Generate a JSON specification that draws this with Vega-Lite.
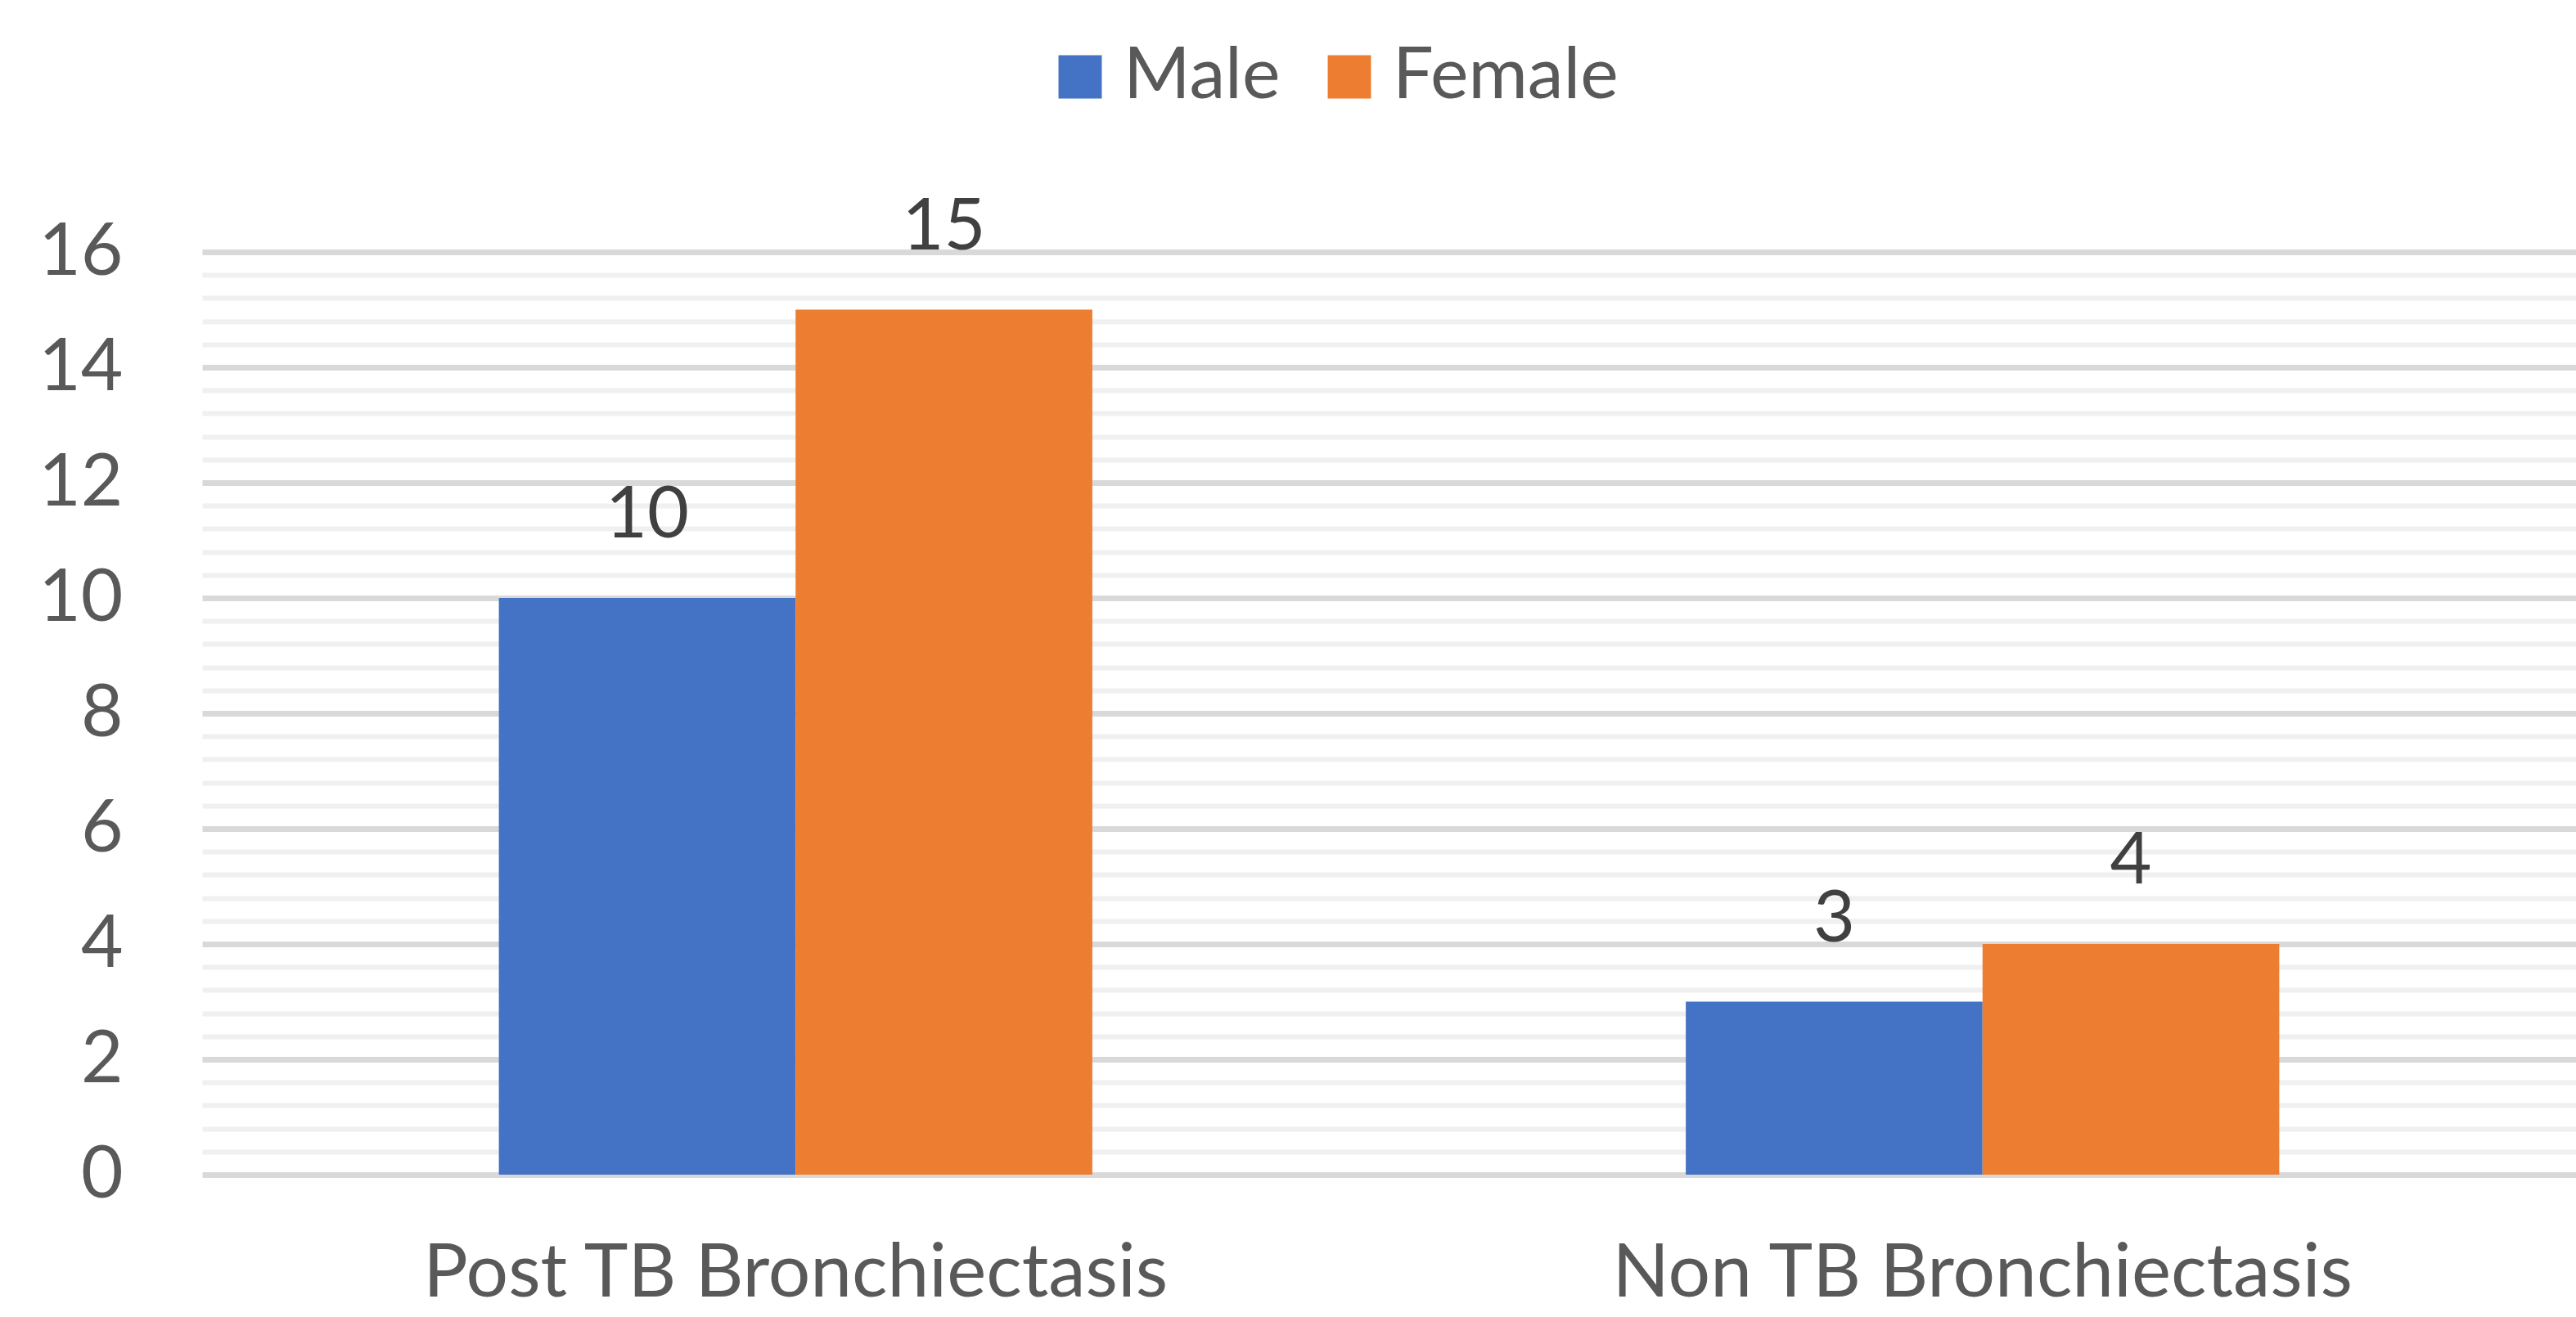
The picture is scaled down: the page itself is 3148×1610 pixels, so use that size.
{
  "$schema": "https://vega.github.io/schema/vega-lite/v6.json",
  "width": 2901,
  "height": 1128,
  "autosize": {"type": "none"},
  "padding": {"left": 247, "top": 308, "right": 0, "bottom": 174},
  "background": "white",
  "config": {
    "view": {"stroke": null},
    "font": "Lato",
    "text": {"font": "Lato"}
  },
  "data": {
    "values": [
      {"category": "Post TB Bronchiectasis", "sex": "Male", "count": 10},
      {"category": "Post TB Bronchiectasis", "sex": "Female", "count": 15},
      {"category": "Non TB Bronchiectasis", "sex": "Male", "count": 3},
      {"category": "Non TB Bronchiectasis", "sex": "Female", "count": 4}
    ]
  },
  "encoding": {
    "x": {
      "field": "category",
      "type": "nominal",
      "sort": ["Post TB Bronchiectasis", "Non TB Bronchiectasis"],
      "scale": {"paddingInner": 0.5, "paddingOuter": 0.25},
      "axis": {
        "title": null,
        "labelAngle": 0,
        "labelLimit": 0,
        "labelFont": "Lato",
        "labelFontSize": 91,
        "labelColor": "#595959",
        "labelPadding": 76,
        "ticks": false,
        "domain": false,
        "grid": false
      }
    },
    "xOffset": {"field": "sex", "type": "nominal", "sort": ["Male", "Female"]},
    "y": {
      "field": "count",
      "type": "quantitative",
      "scale": {"domain": [0, 16], "nice": false},
      "axis": {
        "title": null,
        "values": [0,0.4,0.8,1.2,1.6,2,2.4,2.8,3.2,3.6,4,4.4,4.8,5.2,5.6,6,6.4,6.8,7.2,7.6,8,8.4,8.8,9.2,9.6,10,10.4,10.8,11.2,11.6,12,12.4,12.8,13.2,13.6,14,14.4,14.8,15.2,15.6,16],
        "labelExpr": "datum.value % 2 === 0 ? format(datum.value, 'd') : ''",
        "labelOverlap": false,
        "labelBound": false,
        "labelLimit": 0,
        "labelFont": "Lato",
        "labelFontSize": 89,
        "labelColor": "#595959",
        "labelPadding": 97,
        "ticks": false,
        "domain": false,
        "grid": true,
        "gridColor": {"condition": {"test": "datum.value % 2 === 0", "value": "#d9d9d9"}, "value": "#f0f0f0"},
        "gridWidth": {"condition": {"test": "datum.value % 2 === 0", "value": 7}, "value": 6}
      }
    }
  },
  "layer": [
    {
      "mark": {"type": "bar"},
      "encoding": {
        "color": {
          "field": "sex",
          "type": "nominal",
          "sort": ["Male", "Female"],
          "scale": {"domain": ["Male", "Female"], "range": ["#4472C4", "#ED7D31"]},
          "legend": {
            "title": null,
            "orient": "none",
            "direction": "horizontal",
            "legendX": 1029,
            "legendY": -258,
            "symbolType": "square",
            "symbolSize": 2800,
            "symbolStrokeWidth": 0,
            "labelFont": "Lato",
            "labelFontSize": 88,
            "labelLimit": 0,
            "labelColor": "#595959",
            "labelOffset": 9,
            "columnPadding": 40
          }
        }
      }
    },
    {
      "mark": {"type": "text", "baseline": "alphabetic", "dy": -74, "fontSize": 88, "color": "#404040", "font": "Lato"},
      "encoding": {
        "text": {"field": "count", "type": "quantitative"}
      }
    }
  ]
}
